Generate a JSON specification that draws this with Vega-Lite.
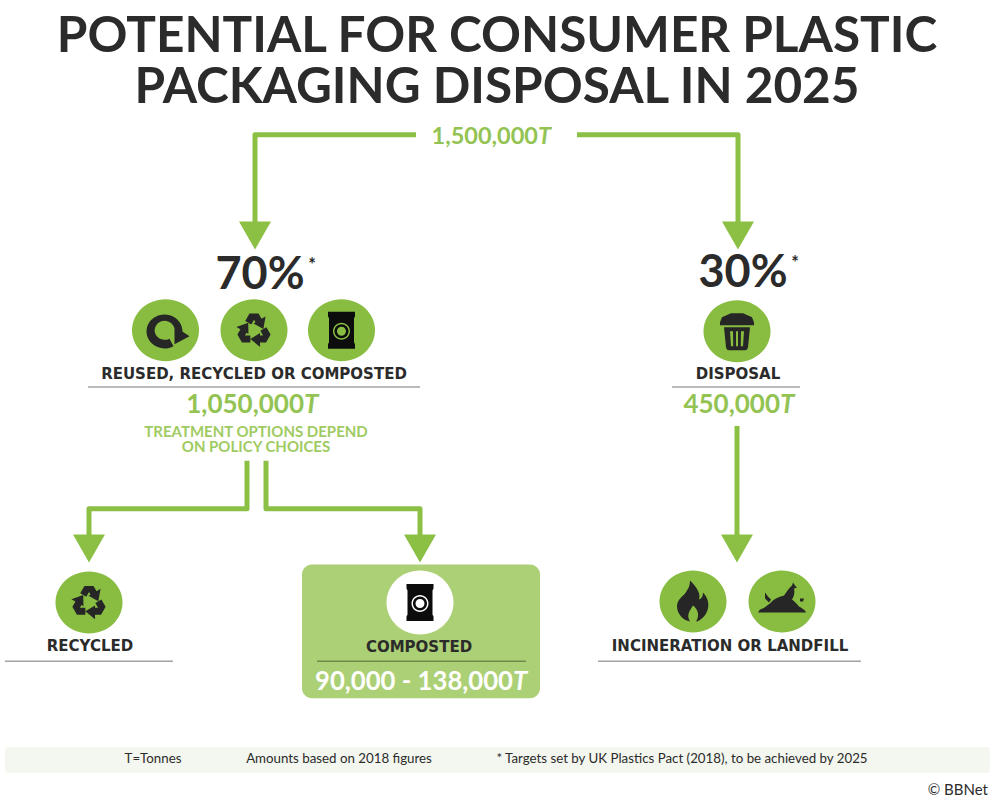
{
  "$schema": "https://vega.github.io/schema/vega-lite/v6.json",
  "width": 990,
  "height": 798,
  "padding": 0,
  "autosize": {"type": "fit", "contains": "padding"},
  "background": "#ffffff",
  "config": {"view": {"stroke": null}},
  "datasets": {
    "panels": [
      {"name": "footer band", "x": 5, "x2": 990, "y": 749, "y2": 775},
      {"name": "composted box", "x": 302, "x2": 540, "y": 566, "y2": 700}
    ],
    "connectors": [
      {"path": "top-left", "seq": 1, "x": 416, "y": 135},
      {"path": "top-left", "seq": 2, "x": 255, "y": 135},
      {"path": "top-left", "seq": 3, "x": 255, "y": 226},
      {"path": "top-right", "seq": 1, "x": 577, "y": 135},
      {"path": "top-right", "seq": 2, "x": 738, "y": 135},
      {"path": "top-right", "seq": 3, "x": 738, "y": 226},
      {"path": "recycled", "seq": 1, "x": 247, "y": 462},
      {"path": "recycled", "seq": 2, "x": 247, "y": 510},
      {"path": "recycled", "seq": 3, "x": 89, "y": 510},
      {"path": "recycled", "seq": 4, "x": 89, "y": 540},
      {"path": "composted", "seq": 1, "x": 266, "y": 462},
      {"path": "composted", "seq": 2, "x": 266, "y": 510},
      {"path": "composted", "seq": 3, "x": 420, "y": 510},
      {"path": "composted", "seq": 4, "x": 420, "y": 540},
      {"path": "disposal", "seq": 1, "x": 737, "y": 427},
      {"path": "disposal", "seq": 2, "x": 737, "y": 540}
    ],
    "arrowheads": [
      {"x": 255, "y": 236},
      {"x": 738, "y": 236},
      {"x": 89, "y": 550},
      {"x": 420, "y": 550},
      {"x": 737, "y": 550}
    ],
    "greyRules": [
      {"x": 88, "x2": 420, "y": 388},
      {"x": 672, "x2": 800, "y": 388},
      {"x": 5, "x2": 173, "y": 663},
      {"x": 598, "x2": 861, "y": 663}
    ],
    "boxRule": [{"x": 317, "x2": 526, "y": 663}],
    "greenDiscs": [
      {"x": 165.5, "y": 331},
      {"x": 254, "y": 331},
      {"x": 341.5, "y": 331},
      {"x": 737, "y": 332},
      {"x": 89, "y": 604},
      {"x": 693, "y": 603},
      {"x": 782, "y": 603}
    ],
    "whiteDiscs": [{"x": 420, "y": 604}],
    "icons": [
      {"x": 165.5, "y": 331, "icon": "reuse"},
      {"x": 737, "y": 332, "icon": "bin"},
      {"x": 693, "y": 603, "icon": "flame"},
      {"x": 782, "y": 603, "icon": "heap"}
    ],
    "recycleIcons": [
      {"x": 254, "y": 331},
      {"x": 89, "y": 604}
    ],
    "bagIcons": [
      {"x": 341.5, "y": 331},
      {"x": 420, "y": 604}
    ],
    "title": [
      {"x": 497, "y": 37.5, "label": "POTENTIAL FOR CONSUMER PLASTIC"},
      {"x": 497, "y": 88, "label": "PACKAGING DISPOSAL IN 2025"}
    ],
    "percentages": [
      {"x": 260, "y": 276, "label": "70%"},
      {"x": 743, "y": 274, "label": "30%"}
    ],
    "asterisks": [
      {"x": 312, "y": 267, "label": "*"},
      {"x": 795, "y": 265, "label": "*"}
    ],
    "categoryLabels": [
      {"x": 254, "y": 375, "label": "REUSED, RECYCLED OR COMPOSTED"},
      {"x": 738, "y": 375, "label": "DISPOSAL"},
      {"x": 90, "y": 648, "label": "RECYCLED"},
      {"x": 419, "y": 649, "label": "COMPOSTED"},
      {"x": 730, "y": 648, "label": "INCINERATION OR LANDFILL"}
    ],
    "topAmount": [{"x": 538, "y": 137, "label": "1,500,000"}],
    "topUnit": [{"x": 538, "y": 137, "label": "T"}],
    "greenAmounts": [
      {"x": 304, "y": 406, "label": "1,050,000"},
      {"x": 780, "y": 406, "label": "450,000"}
    ],
    "greenUnits": [
      {"x": 304, "y": 406, "label": "T"},
      {"x": 780, "y": 406, "label": "T"}
    ],
    "whiteAmount": [{"x": 513, "y": 684, "label": "90,000 - 138,000"}],
    "whiteUnit": [{"x": 513, "y": 684, "label": "T"}],
    "notes": [
      {"x": 256, "y": 433, "label": "TREATMENT OPTIONS DEPEND"},
      {"x": 256, "y": 448, "label": "ON POLICY CHOICES"}
    ],
    "footer": [
      {"x": 153, "y": 761, "label": "T=Tonnes"},
      {"x": 339, "y": 761, "label": "Amounts based on 2018 figures"},
      {"x": 682, "y": 761, "label": "* Targets set by UK Plastics Pact (2018), to be achieved by 2025"}
    ],
    "credit": [{"x": 988, "y": 792, "label": "© BBNet"}]
  },
  "encoding": {
    "x": {"field": "x", "type": "quantitative", "axis": null, "scale": {"domain": [0, 990], "nice": false, "zero": false}},
    "y": {"field": "y", "type": "quantitative", "axis": null, "scale": {"domain": [0, 798], "nice": false, "zero": false, "reverse": true}}
  },
  "layer": [
    {
      "data": {"name": "panels"},
      "transform": [{"filter": "datum.name === 'footer band'"}],
      "mark": {"type": "rect", "fill": "#f4f7ef", "cornerRadius": 3},
      "encoding": {"x2": {"field": "x2"}, "y2": {"field": "y2"}}
    },
    {
      "data": {"name": "panels"},
      "transform": [{"filter": "datum.name === 'composted box'"}],
      "mark": {"type": "rect", "fill": "#acd075", "cornerRadius": 10},
      "encoding": {"x2": {"field": "x2"}, "y2": {"field": "y2"}}
    },
    {
      "data": {"name": "connectors"},
      "mark": {"type": "line", "stroke": "#8cc045", "strokeWidth": 5, "strokeJoin": "round", "strokeCap": "butt"},
      "encoding": {"detail": {"field": "path"}, "order": {"field": "seq", "type": "quantitative"}}
    },
    {
      "data": {"name": "arrowheads"},
      "mark": {"type": "point", "filled": true, "size": 4, "opacity": 1, "strokeWidth": 0, "fill": "#8cc045", "shape": "M-16,-14 L16,-14 L0,14 Z"}
    },
    {
      "data": {"name": "greyRules"},
      "mark": {"type": "rule", "stroke": "#a3a3a3", "strokeWidth": 1.5},
      "encoding": {"x2": {"field": "x2"}}
    },
    {
      "data": {"name": "boxRule"},
      "mark": {"type": "rule", "stroke": "#6f8a4c", "strokeWidth": 1.5},
      "encoding": {"x2": {"field": "x2"}}
    },
    {
      "data": {"name": "greenDiscs"},
      "mark": {"type": "point", "filled": true, "size": 4, "opacity": 1, "strokeWidth": 0, "fill": "#88bd42", "shape": "M-33.5,0 A33.5,31 0 1,1 33.5,0 A33.5,31 0 1,1 -33.5,0 Z"}
    },
    {
      "data": {"name": "whiteDiscs"},
      "mark": {"type": "point", "filled": true, "size": 4, "opacity": 1, "strokeWidth": 0, "fill": "#ffffff", "shape": "M-33.5,0 A33.5,32 0 1,1 33.5,0 A33.5,32 0 1,1 -33.5,0 Z"}
    },
    {
      "data": {"name": "icons"},
      "mark": {"type": "point", "filled": true, "size": 4, "opacity": 1, "strokeWidth": 0, "fill": "#262626"},
      "encoding": {
        "shape": {
          "field": "icon",
          "type": "nominal",
          "legend": null,
          "scale": {
            "domain": ["reuse", "bin", "flame", "heap"],
            "range": [
              "M8,16 A18,17 0 1,1 17,2 L9,2 A10,9.5 0 1,0 4,8.5 Z M9,-4 L24,6 L9,14 Z",
              "M-6,-18 L6,-18 L15,-14 L17,-9 L17,-6 L-17,-6 L-17,-9 L-15,-14 Z M-13,-4 L13,-4 L11,16 Q10.5,19 8,19 L-8,19 Q-10.5,19 -11,16 Z M-7,0 L-6,15 L-3.8,15 L-4,0 Z M-1,0 L-1,15 L1,15 L1,0 Z M4,0 L3.8,15 L6,15 L7,0 Z",
              "M-3,-21 C4,-14 8,-8 6,-2 C9,-3 10,-6 10,-9 C17,-2 17,8 11,15 C8,18 5,20 3,20 C7,14 5,8 0,4 C-3,9 -7,13 -3,20 C-10,19 -16,12 -16,5 C-16,-3 -9,-5 -6,-11 C-4,-14 -3,-17 -3,-21 Z",
              "M-24,11 L-22,8 C-18,7 -15,4 -12,2 C-8,-3 -2,-5 2,-6 L7,-13 L10,-16 L11,-19 L13,-16 L15,-14 L12,-13 C13,-9 12,-5 10,-2 C13,0 15,3 17,5 C20,7 23,8 24,11 Z M-17,-3 L-17,-9 L-14,-5 L-11,-2 L-13,1 Z M18,-3 L22,-3 L21,0 L18,0 Z"
            ]
          }
        }
      }
    },
    {
      "data": {"name": "recycleIcons"},
      "mark": {
        "type": "point", "filled": true, "size": 5.4, "opacity": 1, "strokeWidth": 0, "fill": "#262626",
        "shape": "M-7.54,-7.95 L-3.9,-14.25 L3.9,-14.25 L6.5,-9.75 L9.96,-11.75 L8.06,-1.05 L-0.43,-5.75 L1.3,-6.75 L0,-9 L-2.34,-4.95 Z M10.65,-2.55 L14.29,3.75 L10.39,10.51 L5.19,10.51 L5.2,14.5 L-3.12,7.51 L5.2,2.51 L5.2,4.51 L7.79,4.5 L5.46,0.45 Z M-3.11,10.51 L-10.39,10.51 L-14.29,3.75 L-11.69,-0.75 L-15.16,-2.75 L-4.94,-6.45 L-4.76,3.25 L-6.5,2.25 L-7.79,4.5 L-3.12,4.51 Z"
      }
    },
    {
      "data": {"name": "bagIcons"},
      "mark": {
        "type": "point", "filled": true, "size": 4, "opacity": 1, "strokeWidth": 0, "fill": "#0c0c0c",
        "shape": "M-13.5,-18.5 L13.5,-18.5 L13.5,-14 L12.5,-12 L12.5,12 L13.5,14 L13.5,18.5 L-13.5,18.5 L-13.5,14 L-12.5,12 L-12.5,-12 L-13.5,-14 Z M-8.5,1 A8.5,8.5 0 1,0 8.5,1 A8.5,8.5 0 1,0 -8.5,1 Z M-7,1 A7,7 0 1,1 7,1 A7,7 0 1,1 -7,1 Z M-4.5,1 A4.5,4.5 0 1,0 4.5,1 A4.5,4.5 0 1,0 -4.5,1 Z"
      }
    },
    {
      "data": {"name": "title"},
      "mark": {"type": "text", "font": "Lato", "fontWeight": "bold", "fontSize": 49.5, "fill": "#2b2b2b", "align": "center", "baseline": "middle"},
      "encoding": {"text": {"field": "label"}}
    },
    {
      "data": {"name": "percentages"},
      "mark": {"type": "text", "font": "Lato", "fontWeight": "bold", "fontSize": 45, "fill": "#2b2b2b", "align": "center", "baseline": "middle"},
      "encoding": {"text": {"field": "label"}}
    },
    {
      "data": {"name": "asterisks"},
      "mark": {"type": "text", "font": "Lato", "fontWeight": "bold", "fontSize": 18, "fill": "#2b2b2b", "align": "center", "baseline": "middle"},
      "encoding": {"text": {"field": "label"}}
    },
    {
      "data": {"name": "categoryLabels"},
      "mark": {"type": "text", "font": "DejaVu Sans", "fontWeight": "bold", "fontSize": 15, "fill": "#2b2b2b", "align": "center", "baseline": "middle"},
      "encoding": {"text": {"field": "label"}}
    },
    {
      "data": {"name": "topAmount"},
      "mark": {"type": "text", "font": "Lato", "fontWeight": "bold", "fontSize": 23.5, "fill": "#93c353", "align": "right", "baseline": "middle"},
      "encoding": {"text": {"field": "label"}}
    },
    {
      "data": {"name": "topUnit"},
      "mark": {"type": "text", "font": "Lato", "fontWeight": "bold", "fontStyle": "italic", "fontSize": 23.5, "fill": "#93c353", "align": "left", "baseline": "middle"},
      "encoding": {"text": {"field": "label"}}
    },
    {
      "data": {"name": "greenAmounts"},
      "mark": {"type": "text", "font": "Lato", "fontWeight": "bold", "fontSize": 26, "fill": "#93c353", "align": "right", "baseline": "middle"},
      "encoding": {"text": {"field": "label"}}
    },
    {
      "data": {"name": "greenUnits"},
      "mark": {"type": "text", "font": "Lato", "fontWeight": "bold", "fontStyle": "italic", "fontSize": 26, "fill": "#93c353", "align": "left", "baseline": "middle"},
      "encoding": {"text": {"field": "label"}}
    },
    {
      "data": {"name": "whiteAmount"},
      "mark": {"type": "text", "font": "Lato", "fontWeight": "bold", "fontSize": 25.7, "fill": "#ffffff", "align": "right", "baseline": "middle"},
      "encoding": {"text": {"field": "label"}}
    },
    {
      "data": {"name": "whiteUnit"},
      "mark": {"type": "text", "font": "Lato", "fontWeight": "bold", "fontStyle": "italic", "fontSize": 25.7, "fill": "#ffffff", "align": "left", "baseline": "middle"},
      "encoding": {"text": {"field": "label"}}
    },
    {
      "data": {"name": "notes"},
      "mark": {"type": "text", "font": "Lato", "fontWeight": "bold", "fontSize": 15, "fill": "#a0cb62", "align": "center", "baseline": "middle"},
      "encoding": {"text": {"field": "label"}}
    },
    {
      "data": {"name": "footer"},
      "mark": {"type": "text", "font": "Lato", "fontSize": 13.3, "fill": "#2b2b2b", "align": "center", "baseline": "middle"},
      "encoding": {"text": {"field": "label"}}
    },
    {
      "data": {"name": "credit"},
      "mark": {"type": "text", "font": "Lato", "fontSize": 15, "fill": "#2b2b2b", "align": "right", "baseline": "middle"},
      "encoding": {"text": {"field": "label"}}
    }
  ]
}
